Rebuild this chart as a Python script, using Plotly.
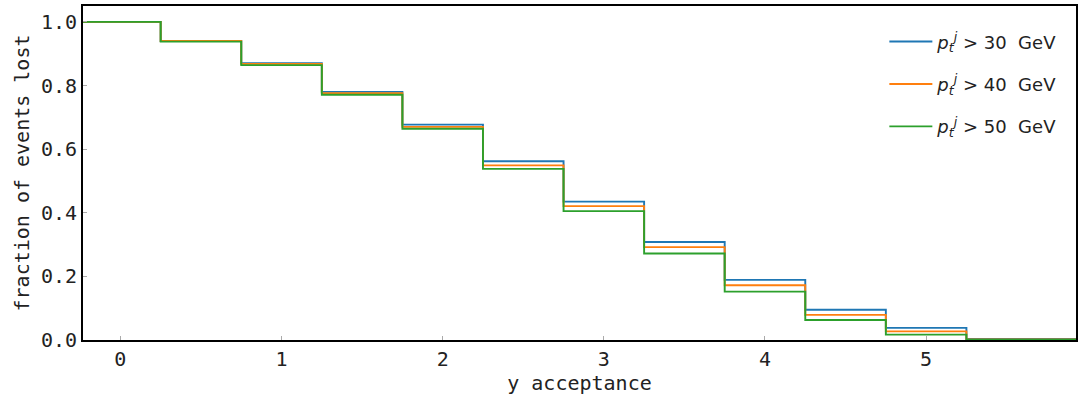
import plotly.graph_objects as go

y_acc = [-0.5, 0.0, 0.5, 1.0, 1.5, 2.0, 2.5, 3.0, 3.5, 4.0, 4.5, 5.0, 5.5, 6.0]
lost_30 = [1.0, 1.0, 0.940, 0.870, 0.780, 0.677, 0.562, 0.435, 0.308, 0.189, 0.095, 0.038, 0.003, 0.003]
lost_40 = [1.0, 1.0, 0.940, 0.868, 0.776, 0.670, 0.549, 0.421, 0.292, 0.172, 0.079, 0.027, 0.002, 0.002]
lost_50 = [1.0, 1.0, 0.938, 0.864, 0.771, 0.664, 0.538, 0.405, 0.272, 0.152, 0.063, 0.017, 0.001, 0.001]
labels = ["<i>p</i><sub><i>t</i></sub><sup><i>j</i></sup> > 30  GeV",
          "<i>p</i><sub><i>t</i></sub><sup><i>j</i></sup> > 40  GeV",
          "<i>p</i><sub><i>t</i></sub><sup><i>j</i></sup> > 50  GeV"]
colors = ["#1f77b4", "#ff7f0e", "#2ca02c"]

fig = go.Figure()
for i, (vals, lab, col) in enumerate(zip([lost_30, lost_40, lost_50], labels, colors)):
    fig.add_trace(go.Scatter(x=y_acc, y=vals, mode="lines", name=lab,
                             line=dict(color=col, width=1.9, shape="hvh"),
                             legendgroup=str(i)))

mono = "DejaVu Sans Mono"
fig.update_layout(
    width=1078, height=401,
    margin=dict(l=83, r=0, t=6, b=61),
    paper_bgcolor="white", plot_bgcolor="white",
    showlegend=True,
    legend=dict(x=0.807, y=0.948, xanchor="left", yanchor="top",
                font=dict(family="DejaVu Sans", size=18, color="#222"),
                bgcolor="rgba(255,255,255,0)", tracegroupgap=16, itemwidth=43),
    xaxis=dict(range=[-0.232, 5.93], tickvals=[0, 1, 2, 3, 4, 5],
               showgrid=False, zeroline=False, showline=True, linecolor="black",
               linewidth=2, mirror=True, ticks="inside", ticklen=4, tickcolor="#aaa",
               tickfont=dict(family=mono, size=20, color="#222"),
               title=dict(text="y acceptance", font=dict(family=mono, size=20, color="#222"), standoff=4)),
    yaxis=dict(range=[0, 1.05], tickvals=[0, 0.2, 0.4, 0.6, 0.8, 1.0], tickformat=".1f",
               showgrid=False, zeroline=False, showline=True, linecolor="black",
               linewidth=2, mirror=True, ticks="inside", ticklen=4, tickcolor="#aaa",
               tickfont=dict(family=mono, size=20, color="#222"),
               title=dict(text="fraction of events lost", font=dict(family=mono, size=20, color="#222"), standoff=6)),
)
fig.write_html("out.html", config={"displayModeBar": False},
               post_script="document.body.style.margin='0';document.body.style.overflow='hidden';")
